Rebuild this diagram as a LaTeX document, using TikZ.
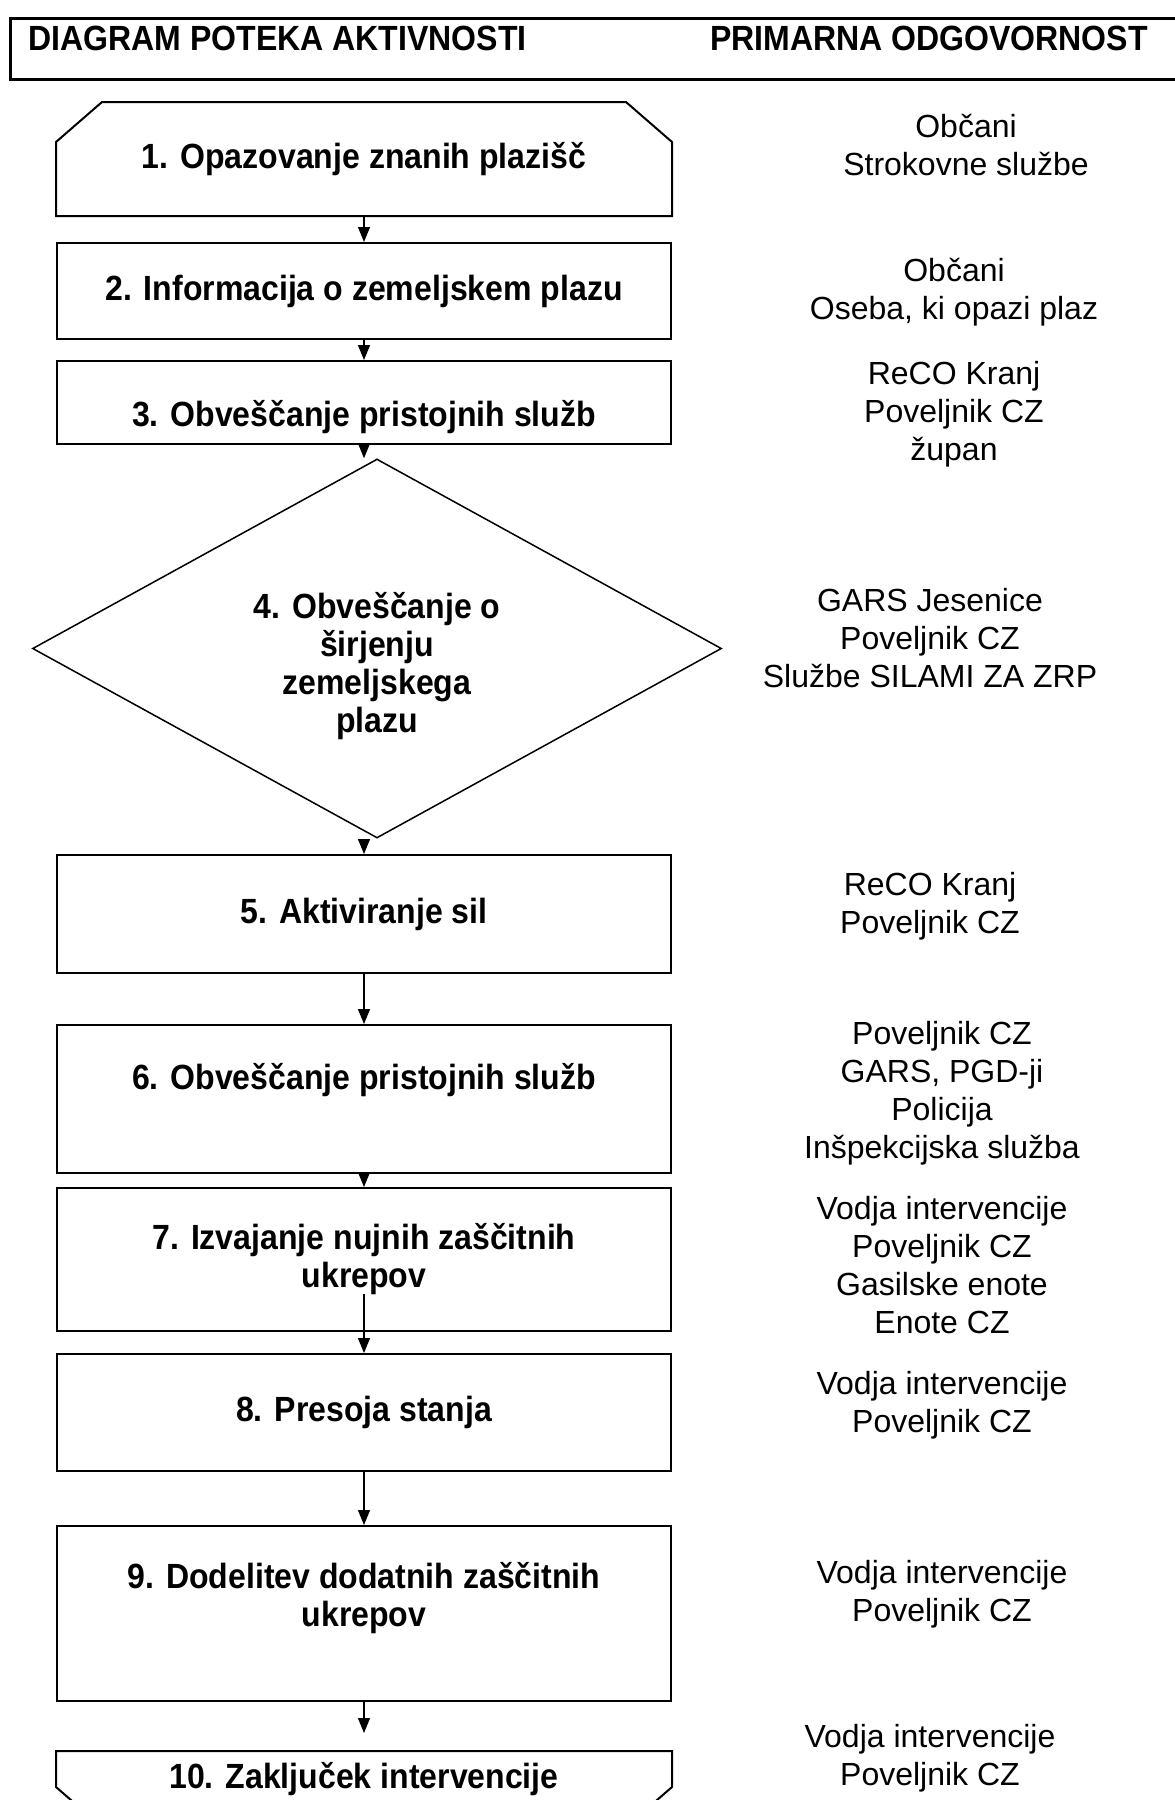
\documentclass[tikz,border=0pt]{standalone}
\usepackage{fontspec}
\setmainfont{Liberation Sans}
\newfontfamily\flowbold[FakeStretch=0.915]{Liberation Sans Bold}
\usetikzlibrary{arrows.meta,shapes.geometric}

\begin{document}
\begin{tikzpicture}[
    x=1pt, y=-1pt,
    stepbox/.style={
      draw, line width=2pt, minimum width=614pt, inner sep=4pt,
      align=center, font=\flowbold\fontsize{35}{38}\selectfont
    },
    cutbox/.style={stepbox, draw=none},
    decision/.style={
      draw, diamond, aspect=1.8, line width=1.5pt, minimum width=689pt,
      minimum height=379pt, inner sep=0pt, align=center,
      font=\flowbold\fontsize{35}{38}\selectfont
    },
    resp/.style={align=center, font=\fontsize{32}{38}\selectfont},
    head/.style={font=\flowbold\fontsize{35}{38}\selectfont},
    flow/.style={-{Triangle[length=15pt,width=12pt]}, line width=1.2pt}
  ]
  \useasboundingbox (0,0) rectangle (1175,1800);

  % Header
  \node[draw, line width=2.5pt, anchor=north west, minimum width=1180pt,
        minimum height=61pt, inner sep=0pt] (hdr) at (9,17) {};
  \node[head, anchor=west] (hact) at (25,38) {DIAGRAM POTEKA AKTIVNOSTI};
  \node[head] (hresp) at (929,38) {PRIMARNA ODGOVORNOST};

  % Steps (left column)
  \node[cutbox, minimum height=112pt] (s1) at (364,159) {1. Opazovanje znanih plazišč};
  \draw[line width=2pt] ([yshift=-40pt]s1.north west) -- ([xshift=46pt]s1.north west)
    -- ([xshift=-46pt]s1.north east) -- ([yshift=-40pt]s1.north east)
    -- (s1.south east) -- (s1.south west) -- cycle;
  \node[stepbox, minimum height=96pt]
    (s2) at (364,291) {2. Informacija o zemeljskem plazu};
  \node[stepbox, minimum height=83pt, text height=55pt, text depth=8pt]
    (s3) at (364,402.5) {3. Obveščanje pristojnih služb};
  \node[decision] (s4) at (377,648.5)
    {\mbox{}\\[24pt]4. Obveščanje o\\širjenju\\zemeljskega\\plazu};
  \node[stepbox, minimum height=118pt]
    (s5) at (364,914) {5. Aktiviranje sil};
  \node[stepbox, minimum height=148pt, text depth=46pt]
    (s6) at (364,1099) {6. Obveščanje pristojnih služb};
  \node[stepbox, minimum height=143pt]
    (s7) at (364,1259.5) {7. Izvajanje nujnih zaščitnih\\ukrepov};
  \node[stepbox, minimum height=117pt]
    (s8) at (364,1412.5) {8. Presoja stanja};
  \node[stepbox, minimum height=175pt]
    (s9) at (364,1613.5) {9. Dodelitev dodatnih zaščitnih\\ukrepov\\\mbox{}};
  \node[cutbox, minimum height=74pt, text depth=28pt]
    (s10) at (364,1789) {10. Zaključek intervencije};
  \draw[line width=2pt] ([yshift=40pt]s10.south west) -- (s10.north west)
    -- (s10.north east) -- ([yshift=40pt]s10.south east)
    -- ([xshift=-46pt]s10.south east) -- ([xshift=46pt]s10.south west) -- cycle;

  % Responsibilities (right column)
  \node[resp] (r1) at (966,145.5) {Občani\\Strokovne službe};
  \node[resp] (r2) at (954,292.5) {Občani\\Oseba, ki opazi plaz};
  \node[resp] (r3) at (954,414.5) {ReCO Kranj\\Poveljnik CZ\\župan};
  \node[resp] (r4) at (930,638.5) {GARS Jesenice\\Poveljnik CZ\\Službe SILAMI ZA ZRP};
  \node[resp] (r5) at (930,906.5) {ReCO Kranj\\Poveljnik CZ};
  \node[resp] (r6) at (942,1093.5) {Poveljnik CZ\\GARS, PGD-ji\\Policija\\Inšpekcijska služba};
  \node[resp] (r7) at (942,1265.5) {Vodja intervencije\\Poveljnik CZ\\Gasilske enote\\Enote CZ};
  \node[resp] (r8) at (942,1405.5) {Vodja intervencije\\Poveljnik CZ};
  \node[resp] (r9) at (942,1594.5) {Vodja intervencije\\Poveljnik CZ};
  \node[resp] (r10) at (930,1758.5) {Vodja intervencije\\Poveljnik CZ};

  % Arrows
  \foreach \a/\b in {s1/s2, s2/s3, s5/s6, s6/s7, s8/s9} {
    \draw[flow] (\a) -- (\b);
  }
  \draw[flow] (s3.south) -- (s3.south |- s4.north);
  \draw[flow] (s5.north |- s4.south) -- (s5.north);
  \coordinate (s7in) at ([yshift=38pt]s7.south);
  \draw[flow] (s7in) -- (s8.north);
  \draw[flow, shorten >=18pt] (s9) -- (s10);
\end{tikzpicture}
\end{document}
